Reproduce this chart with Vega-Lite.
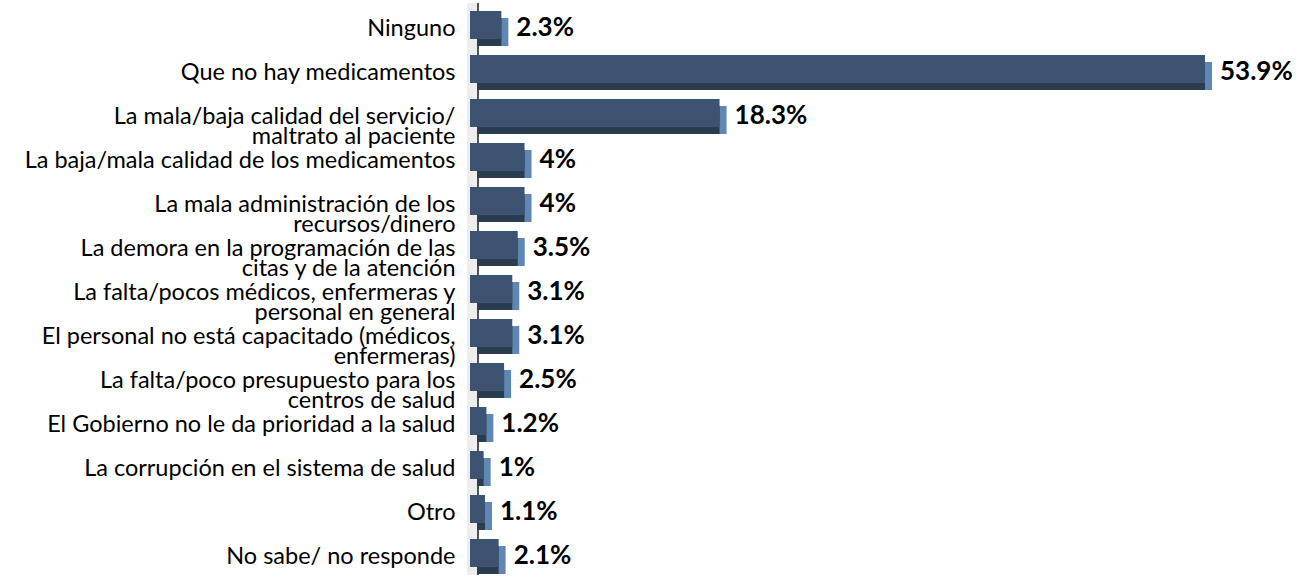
{
  "$schema": "https://vega.github.io/schema/vega-lite/v6.json",
  "autosize": "none",
  "padding": {"left": 470, "top": 3, "right": 103, "bottom": 3},
  "width": 735,
  "height": 572,
  "background": "white",
  "config": {"view": {"stroke": null}},
  "data": {
    "values": [
      {"cat": "Ninguno", "v": 2.3},
      {"cat": "Que no hay medicamentos", "v": 53.9},
      {"cat": "La mala/baja calidad del servicio/\nmaltrato al paciente", "v": 18.3},
      {"cat": "La baja/mala calidad de los medicamentos", "v": 4},
      {"cat": "La mala administración de los\nrecursos/dinero", "v": 4},
      {"cat": "La demora en la programación de las\ncitas y de la atención", "v": 3.5},
      {"cat": "La falta/pocos médicos, enfermeras y\npersonal en general", "v": 3.1},
      {"cat": "El personal no está capacitado (médicos,\nenfermeras)", "v": 3.1},
      {"cat": "La falta/poco presupuesto para los\ncentros de salud", "v": 2.5},
      {"cat": "El Gobierno no le da prioridad a la salud", "v": 1.2},
      {"cat": "La corrupción en el sistema de salud", "v": 1},
      {"cat": "Otro", "v": 1.1},
      {"cat": "No sabe/ no responde", "v": 2.1}
    ]
  },
  "transform": [{"calculate": "format(datum.v, '.1~f') + '%'", "as": "lbl"}],
  "encoding": {
    "y": {
      "field": "cat",
      "type": "nominal",
      "sort": null,
      "scale": {"paddingInner": 0, "paddingOuter": 0},
      "axis": {
        "title": null,
        "domain": false,
        "ticks": false,
        "labelPadding": 15,
        "labelLimit": 0,
        "labelFont": "Lato",
        "labelFontSize": 23.5,
        "labelColor": "#000000",
        "labelLineHeight": 20,
        "labelOffset": 4,
        "labelExpr": "split(datum.label, '\\n')"
      }
    }
  },
  "layer": [
    {
      "mark": {"type": "rect", "color": "#ededed", "xOffset": -3, "x2Offset": 8},
      "encoding": {"x": {"datum": 0, "type": "quantitative", "scale": {"domain": [0, 53.9], "nice": false, "zero": true}, "axis": null}, "x2": {"datum": 0}, "y": null}
    },
    {
      "mark": {"type": "rule", "color": "#555555", "strokeWidth": 1.5, "xOffset": 8},
      "encoding": {"x": {"datum": 0, "type": "quantitative"}, "y": null}
    },
    {
      "mark": {"type": "bar", "color": "#5e88b3", "size": 28, "xOffset": 7, "x2Offset": 7, "yOffset": 7},
      "encoding": {"x": {"field": "v", "type": "quantitative"}, "x2": {"datum": 0}}
    },
    {
      "mark": {"type": "bar", "color": "#2a3c4f", "size": 28, "xOffset": 0, "x2Offset": 7, "yOffset": 7},
      "encoding": {"x": {"field": "v", "type": "quantitative"}, "x2": {"datum": 0}}
    },
    {
      "mark": {"type": "bar", "color": "#3c5472", "size": 28},
      "encoding": {"x": {"field": "v", "type": "quantitative"}, "x2": {"datum": 0}}
    },
    {
      "mark": {"type": "text", "align": "left", "baseline": "middle", "dx": 15, "dy": 3, "font": "Lato", "fontSize": 26, "fontWeight": "bold", "color": "#000000"},
      "encoding": {"x": {"field": "v", "type": "quantitative"}, "text": {"field": "lbl"}}
    }
  ]
}
